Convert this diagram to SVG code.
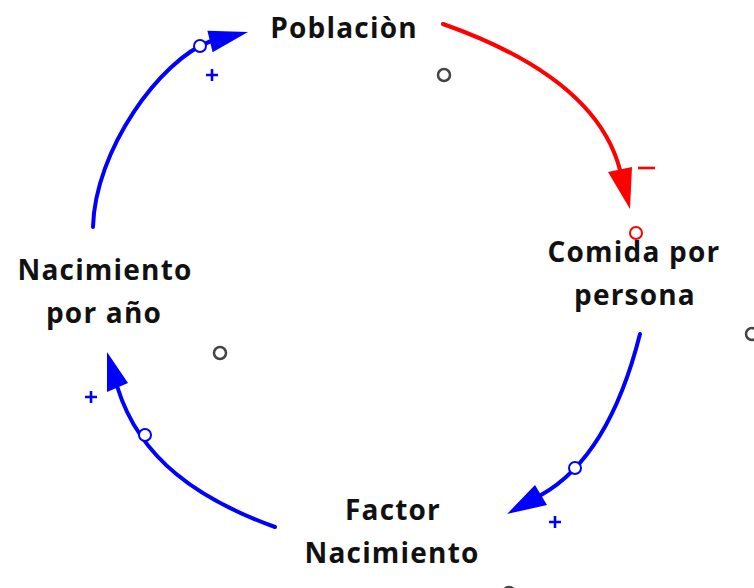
<svg xmlns="http://www.w3.org/2000/svg" width="754" height="588" viewBox="0 0 754 588">
<style>
.lbl{font-family:"Open Sans","Noto Sans","Liberation Sans",sans-serif;font-weight:bold;font-size:28px;fill:#111;text-anchor:middle;letter-spacing:1.2px}
.lb{fill:none;stroke:#0000ff;stroke-width:4;stroke-linecap:round}
.lr{fill:none;stroke:#ff0000;stroke-width:4;stroke-linecap:round}
.hb{fill:#0000ff}
.hr{fill:#ff0000}
.cb{fill:#fff;stroke:#0000ff;stroke-width:2}
.cr{fill:none;stroke:#ff0000;stroke-width:2}
.cg{fill:none;stroke:#444;stroke-width:2.5}
.sb{stroke:#0000ff;stroke-width:2.6;fill:none}
.sr{stroke:#ff0000;stroke-width:2.6;fill:none}
</style>
<rect width="754" height="588" fill="#fff"/>
<g id="connectors">
  <g id="c1">
    <path class="lb" d="M93,227 C95,150 160,60 210,41.5"/>
    <polygon class="hb" points="248,32 207.4,30.8 212.6,52.2"/>
    <circle class="cb" cx="200" cy="46" r="6"/>
    <path class="sb" d="M206,75 H218 M212,69 V81"/>
  </g>
  <g id="c2">
    <path class="lr" d="M443,24 Q596,78 620,170"/>
    <polygon class="hr" points="630,209 608,172 632,167"/>
    <circle class="cr" cx="636" cy="233" r="6"/>
    <path class="sr" d="M638,168 H655"/>
  </g>
  <g id="c3">
    <path class="lb" d="M640,334 Q609,457 541,495"/>
    <polygon class="hb" points="507,514 535,485 547,505"/>
    <circle class="cb" cx="575" cy="468" r="6"/>
    <path class="sb" d="M549,522 H561 M555,516 V528"/>
  </g>
  <g id="c4">
    <path class="lb" d="M275,527 C200,500 140,460 117.5,387.5"/>
    <polygon class="hb" points="107,352 107,392 128,383"/>
    <circle class="cb" cx="145" cy="435" r="6"/>
    <path class="sb" d="M85,397 H97 M91,391 V403"/>
  </g>
</g>
<g id="poblacion">
  <text class="lbl" x="344" y="38">Poblaciòn</text>
  <circle class="cg" cx="444" cy="75" r="6"/>
</g>
<g id="comida">
  <text class="lbl" x="634" y="262">Comida por</text>
  <text class="lbl" x="635" y="305">persona</text>
  <circle class="cg" cx="752" cy="334" r="6"/>
</g>
<g id="factor">
  <text class="lbl" x="393" y="520">Factor</text>
  <text class="lbl" x="392" y="563">Nacimiento</text>
  <circle class="cg" cx="509" cy="593" r="6"/>
</g>
<g id="nacimiento">
  <text class="lbl" x="105" y="280">Nacimiento</text>
  <text class="lbl" x="104" y="323">por año</text>
  <circle class="cg" cx="220" cy="353" r="6"/>
</g>
</svg>
